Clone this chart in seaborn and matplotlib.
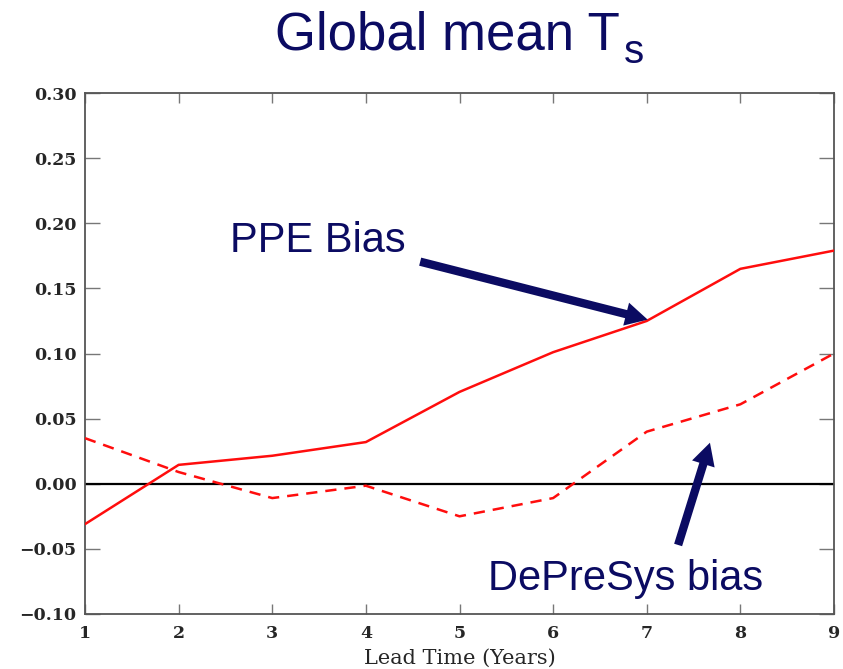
import matplotlib
matplotlib.use("Agg")
import matplotlib.pyplot as plt
import seaborn as sns
import pandas as pd

# Lead times and global-mean surface temperature biases
lead_years = [1, 2, 3, 4, 5, 6, 7, 8, 9]
ppe_bias = [-0.031, 0.0145, 0.0215, 0.032, 0.0705, 0.101, 0.125, 0.165, 0.179]
depresys_bias = [0.035, 0.009, -0.011, -0.0015, -0.025, -0.011, 0.040, 0.061, 0.100]
y_ticks = [-0.10, -0.05, 0.00, 0.05, 0.10, 0.15, 0.20, 0.25, 0.30]

sns.set_theme(style="white")
plt.rcParams["font.family"] = ["Liberation Sans", "DejaVu Sans"]

NAVY = "#0b0b62"
SERIF = ["DejaVu Serif"]

df = pd.DataFrame({
    "lead": lead_years * 2,
    "bias": ppe_bias + depresys_bias,
    "series": ["PPE"] * len(lead_years) + ["DePreSys"] * len(lead_years),
})

fig = plt.figure(figsize=(8.43, 6.69), dpi=100)
ax = fig.add_axes([85 / 843, 55 / 669, (834 - 85) / 843, (614 - 93) / 669])

ax.axhline(0.0, color="black", lw=1.6, zorder=1)
sns.lineplot(data=df, x="lead", y="bias", style="series",
             dashes={"PPE": "", "DePreSys": (4.5, 3.2)},
             color="#ff0d0d", lw=1.8, legend=False, ax=ax, zorder=3)

ax.set_xlim(1, 9)
ax.set_ylim(-0.10, 0.30)
ax.set_xticks(lead_years)
ax.set_yticks(y_ticks)
ax.set_xticklabels([str(v) for v in lead_years], family=SERIF,
                   fontsize=12.5, fontweight="bold")
ax.set_yticklabels([f"{v:.2f}".replace("-", "\u2212") for v in y_ticks],
                   family=SERIF, fontsize=12.5, fontweight="bold")
ax.tick_params(axis="y", direction="in", length=11, width=1, color="#777777",
               left=True, right=True, pad=6)
ax.tick_params(axis="x", direction="in", length=7, width=1, color="#777777",
               bottom=True, top=True, pad=8)
for side in ax.spines.values():
    side.set_color("#555555")
    side.set_linewidth(1.3)

ax.set_xlabel("Lead Time (Years)", family=SERIF, fontsize=15, labelpad=5)
ax.set_ylabel("")

# Annotation labels with arrows
ax.text(2.55, 0.178, "PPE Bias", fontsize=30, color=NAVY,
        ha="left", va="baseline")
ax.text(5.305, -0.0814, "DePreSys bias", fontsize=30, color=NAVY,
        ha="left", va="baseline")
arrow_kw = dict(arrowstyle="simple,head_length=1.6,head_width=1.7,tail_width=0.6",
                color=NAVY, lw=0, shrinkA=0, shrinkB=0, mutation_scale=10)
ax.annotate("", xy=(7.01, 0.126), xytext=(4.58, 0.1705), arrowprops=arrow_kw)
ax.annotate("", xy=(7.675, 0.0315), xytext=(7.335, -0.047), arrowprops=arrow_kw)

# Title with subscript
fig.text(275 / 843, 1 - 50 / 669, "Global mean T", fontsize=38, color=NAVY,
         ha="left", va="baseline")
fig.text(624 / 843, 1 - 63 / 669, "s", fontsize=29, color=NAVY,
         ha="left", va="baseline")

fig.savefig("out.png", dpi=100)
